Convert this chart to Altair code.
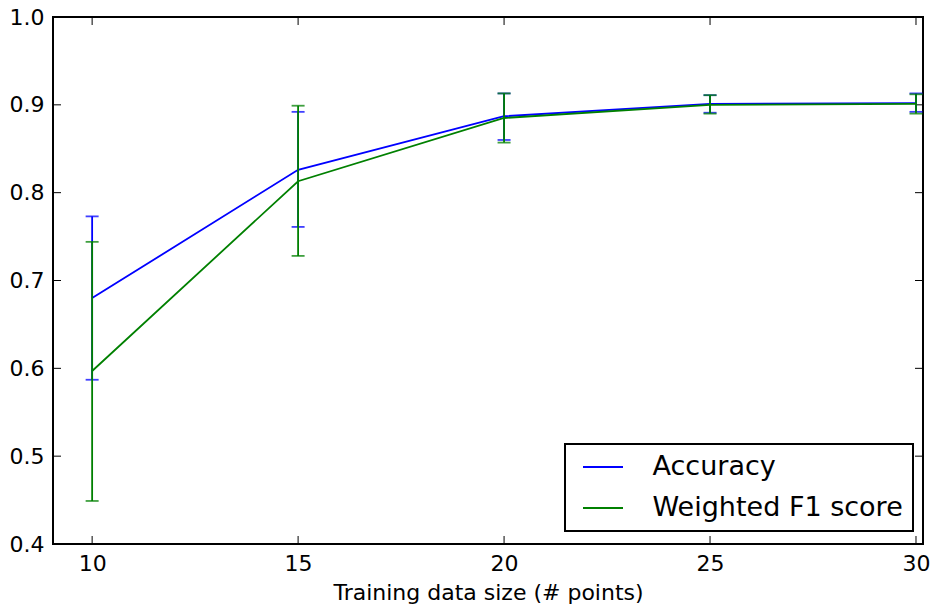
import altair as alt
import pandas as pd

sizes = [10, 15, 20, 25, 30]
series_names = ["Accuracy", "Weighted F1 score"]
acc_mean = [0.680, 0.826, 0.887, 0.901, 0.902]
acc_hi = [0.773, 0.892, 0.913, 0.911, 0.913]
acc_lo = [0.587, 0.761, 0.860, 0.891, 0.892]
f1_mean = [0.597, 0.813, 0.885, 0.900, 0.901]
f1_hi = [0.744, 0.899, 0.913, 0.911, 0.912]
f1_lo = [0.449, 0.728, 0.857, 0.890, 0.890]
x_ticks = [10, 15, 20, 25, 30]
y_ticks = [0.4, 0.5, 0.6, 0.7, 0.8, 0.9, 1.0]
colors = ["#0000ff", "#008000"]

rows = []
for i, s in enumerate(sizes):
    rows.append({"size": s, "series": series_names[0], "mean": acc_mean[i], "lo": acc_lo[i], "hi": acc_hi[i]})
for i, s in enumerate(sizes):
    rows.append({"size": s, "series": series_names[1], "mean": f1_mean[i], "lo": f1_lo[i], "hi": f1_hi[i]})
df = pd.DataFrame(rows)

W, H = 870, 527
TICK = 8
FONT = "DejaVu Sans"

xscale = alt.Scale(domain=[9.05, 30.17], nice=False, zero=False)
yscale = alt.Scale(domain=[0.4, 1.0], nice=False, zero=False)
cscale = alt.Scale(domain=series_names, range=colors)

xenc = alt.X("size:Q", scale=xscale,
             axis=alt.Axis(values=x_ticks, title="Training data size (# points)", grid=False,
                           domain=False, ticks=False, labelFontSize=22, labelPadding=9,
                           titleFontSize=22, titleFontWeight="normal", titlePadding=8,
                           labelColor="black", titleColor="black", labelFont=FONT, titleFont=FONT))
yenc = alt.Y("mean:Q", scale=yscale,
             axis=alt.Axis(values=y_ticks, format=".1f", title=None, grid=False, domain=False,
                           ticks=False, labelFontSize=22, labelPadding=9, labelColor="black",
                           labelFont=FONT))

base = alt.Chart(df)

lines = base.mark_line(strokeWidth=1.8).encode(
    x=xenc, y=yenc,
    color=alt.Color("series:N", scale=cscale, sort=series_names,
                    legend=alt.Legend(title=None, orient="none", legendX=512, legendY=427,
                                      labelFontSize=27, labelFont=FONT, labelColor="black",
                                      symbolType="M-0.5,0H3.5", symbolSize=400, symbolStrokeWidth=1.8,
                                      labelOffset=51, rowPadding=13, padding=9.5,
                                      fillColor="white", labelLimit=400)),
    detail="series:N",
)

bars = base.mark_rule(strokeWidth=1.8).encode(
    x=alt.X("size:Q", scale=xscale),
    y=alt.Y("lo:Q", scale=yscale),
    y2="hi:Q",
    color=alt.Color("series:N", scale=cscale, legend=None),
)

caps_hi = base.mark_tick(thickness=1.8, size=13, orient="horizontal", opacity=0.75).encode(
    x=alt.X("size:Q", scale=xscale),
    y=alt.Y("hi:Q", scale=yscale),
    color=alt.Color("series:N", scale=cscale, legend=None),
)
caps_lo = base.mark_tick(thickness=1.8, size=13, orient="horizontal", opacity=0.75).encode(
    x=alt.X("size:Q", scale=xscale),
    y=alt.Y("lo:Q", scale=yscale),
    color=alt.Color("series:N", scale=cscale, legend=None),
)

xt = pd.DataFrame({"t": x_ticks})
yt = pd.DataFrame({"t": y_ticks})
tick_bottom = alt.Chart(xt).mark_rule(color="black", strokeWidth=1).encode(
    x=alt.X("t:Q", scale=xscale), y=alt.value(H), y2=alt.value(H - TICK))
tick_top = alt.Chart(xt).mark_rule(color="black", strokeWidth=1).encode(
    x=alt.X("t:Q", scale=xscale), y=alt.value(0), y2=alt.value(TICK))
tick_left = alt.Chart(yt).mark_rule(color="black", strokeWidth=1).encode(
    y=alt.Y("t:Q", scale=yscale), x=alt.value(0), x2=alt.value(TICK))
tick_right = alt.Chart(yt).mark_rule(color="black", strokeWidth=1).encode(
    y=alt.Y("t:Q", scale=yscale), x=alt.value(W), x2=alt.value(W - TICK))

layers = [tick_bottom, tick_top, tick_left, tick_right]
for name in series_names:
    f = alt.datum.series == name
    layers += [lines.transform_filter(f), bars.transform_filter(f),
               caps_hi.transform_filter(f), caps_lo.transform_filter(f)]

chart = alt.layer(*layers).resolve_scale(color="shared").properties(
    width=W, height=H,
    autosize=alt.AutoSizeParams(type="none"),
    padding={"left": 53, "top": 17, "right": 9, "bottom": 66},
    background="white",
).configure(
    font=FONT
).configure_view(
    stroke="black", strokeWidth=2, fill="white"
).configure_legend(
    strokeColor="black", strokeWidth=2, cornerRadius=0
)

chart.save("out.html", embed_options={"renderer": "svg", "actions": False})
